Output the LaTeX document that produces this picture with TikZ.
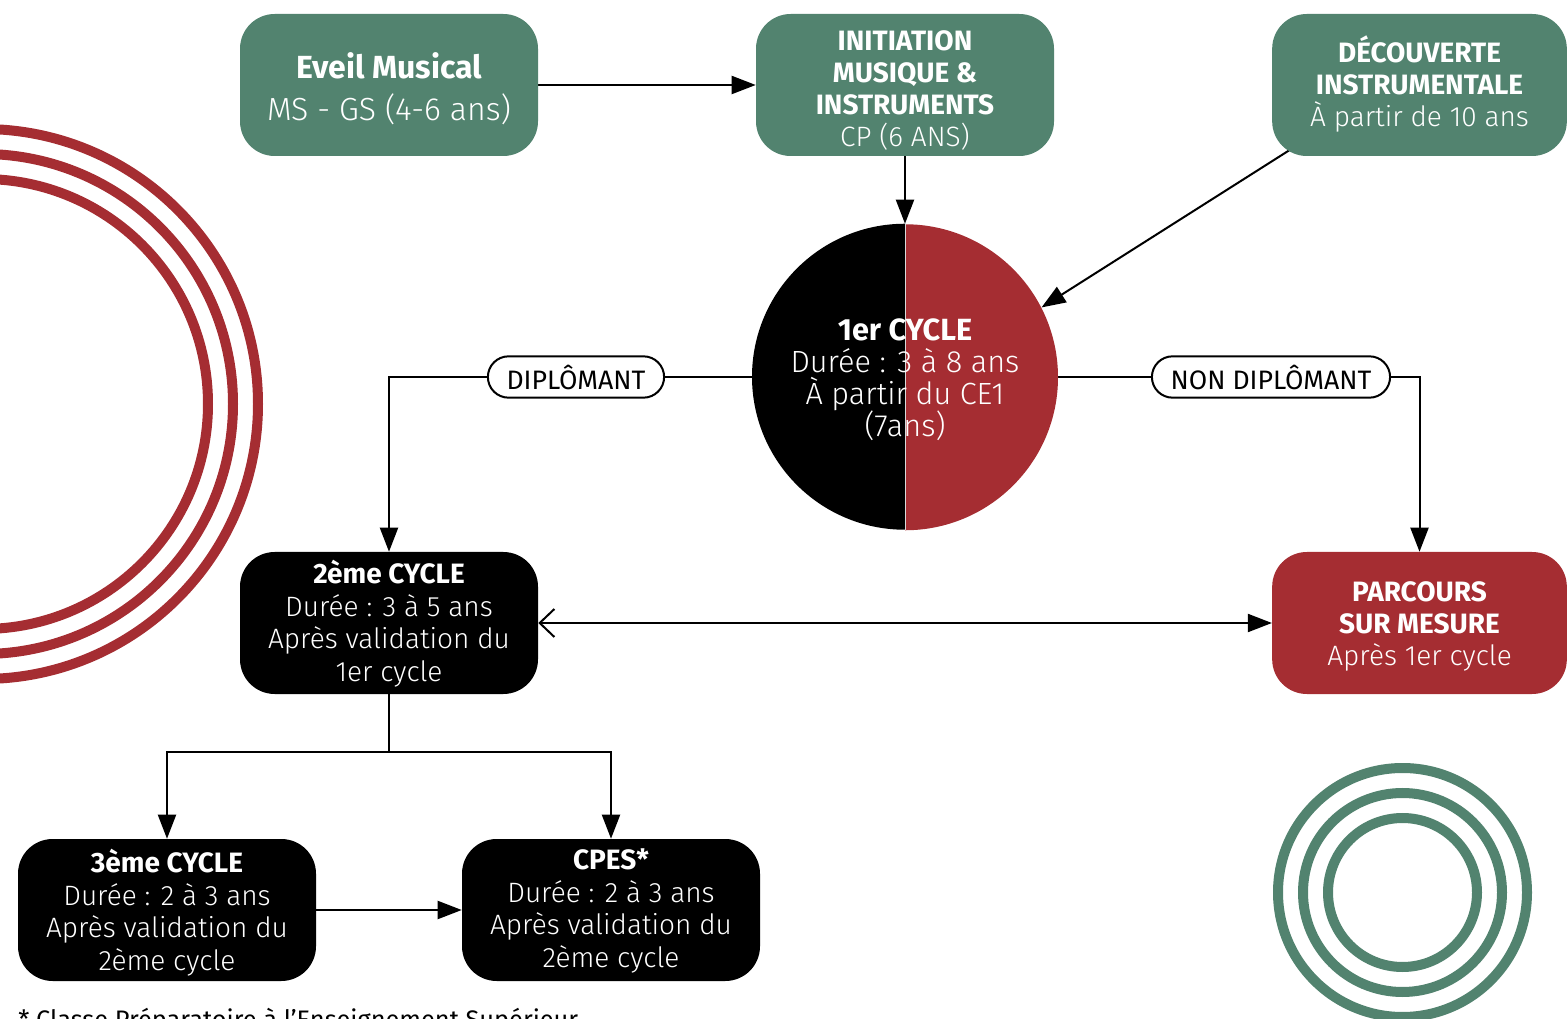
\documentclass[tikz,border=0pt]{standalone}
\usepackage{fontspec}
\setmainfont{Fira Sans}
\newfontfamily\lightfont{Fira Sans Light}
\usetikzlibrary{arrows.meta,backgrounds,calc}
\definecolor{cgreen}{RGB}{82,131,111}
\definecolor{cred}{RGB}{165,45,50}
\begin{document}
\begin{tikzpicture}[x=0.75pt,y=-0.75pt,
  box/.style={rectangle, rounded corners=26pt, minimum width=223.5pt, minimum height=106.5pt, inner sep=0pt},
  greenbox/.style={box, fill=cgreen},
  blackbox/.style={box, fill=black},
  redbox/.style={box, fill=cred},
  tx/.style={text=white, align=center, inner sep=0pt, font=\fontsize{21}{24}\selectfont},
  txb/.style={tx, font=\fontsize{21}{24.5}\selectfont},
  pill/.style={draw=black, line width=1.5pt, fill=white, rounded corners=15.5pt,
    minimum height=31pt, inner xsep=14pt, inner ysep=0pt, font=\fontsize{20}{22}\selectfont},
  conn/.style={line width=1.5pt, draw=black},
  arr/.style={conn, -{Triangle[length=18pt,width=13.5pt]}},
  ring/.style={line width=7.5pt}
]
\path[use as bounding box, clip] (0,0) rectangle (1568,1019);

% decorative rings
\draw[cred, ring] (-17,404) circle[radius=275];
\draw[cred, ring] (-17,404) circle[radius=250];
\draw[cred, ring] (-17,404) circle[radius=225];
\draw[cgreen, ring] (1402.5,892.5) circle[radius=124.5];
\draw[cgreen, ring] (1402.5,892.5) circle[radius=99.5];
\draw[cgreen, ring] (1402.5,892.5) circle[radius=74.5];

% top boxes
\node[greenbox] (eveil) at (389,85) {};
\node[tx, font=\fontsize{24}{31.5}\selectfont] (eveilt) at ([yshift=-2.6pt]eveil.center)
  {\textbf{Eveil Musical}\\{\lightfont MS - GS (4-6 ans)}};
\node[greenbox] (ini) at (905,85) {};
\node[tx] (init) at ([yshift=-3.75pt]ini.center)
  {\textbf{INITIATION}\\\textbf{MUSIQUE \&}\\\textbf{INSTRUMENTS}\\{\lightfont CP (6 ANS)}};
\node[greenbox, minimum width=221pt] (dec) at (1419.5,85) {};
\node[tx] (dect) at ([yshift=0.75pt]dec.center)
  {\textbf{DÉCOUVERTE}\\\textbf{INSTRUMENTALE}\\{\lightfont À partir de 10 ans}};

% first cycle circle
\node[circle, minimum size=229.5pt, inner sep=0pt] (c1) at (905,377) {};
\fill[black] (c1.north) arc[start angle=90, end angle=270, radius=114.75pt] -- cycle;
\fill[cred] (c1.south) arc[start angle=-90, end angle=90, radius=114.75pt] -- cycle;
\draw[white!70!gray, line width=0.5pt] (c1.north) -- (c1.south);
\node[tx, font=\fontsize{23}{24}\selectfont] (c1t) at ([yshift=-2.25pt]c1.center)
  {\textbf{1er CYCLE}\\{\lightfont Durée : 3 à 8 ans}\\{\lightfont À partir du CE1}\\{\lightfont (7ans)}};

% second row
\node[blackbox] (c2) at (389,623) {};
\node[txb] (c2t) at ([yshift=-0.4pt]c2.center)
  {\textbf{2ème CYCLE}\\{\lightfont Durée : 3 à 5 ans}\\{\lightfont Après validation du}\\{\lightfont 1er cycle}};
\node[redbox, minimum width=221pt] (pm) at (1419.5,623) {};
\node[tx] (pmt) at ([yshift=-2.25pt]pm.center)
  {\textbf{PARCOURS}\\\textbf{SUR MESURE}\\{\lightfont Après 1er cycle}};

% third row
\node[blackbox] (c3) at (167,910) {};
\node[txb] (c3t) at ([yshift=-2pt]c3.center)
  {\textbf{3ème CYCLE}\\{\lightfont Durée : 2 à 3 ans}\\{\lightfont Après validation du}\\{\lightfont 2ème cycle}};
\node[blackbox] (cpes) at (611,910) {};
\node[txb] (cpest) at ([yshift=-0.6pt]cpes.center)
  {\textbf{CPES*}\\{\lightfont Durée : 2 à 3 ans}\\{\lightfont Après validation du}\\{\lightfont 2ème cycle}};

\coordinate (split) at (389,752);
\coordinate (decin) at (1337,120);

\begin{scope}[on background layer]
\draw[arr] (eveil.east) -- (ini.west);
\draw[arr] (ini.south) -- (c1.north);
\draw[arr] (decin) -- (c1.27);
\draw[arr] (c1.west) -| (c2.north);
\draw[arr] (c1.east) -| (pm.north);
\draw[conn, {Straight Barb[length=11pt,width=21pt,line width=1.5pt]}-{Triangle[length=18pt,width=13.5pt]}] (c2.east) -- (pm.west);
\draw[conn] (c2.south) -- (split);
\draw[arr] (split) -| (c3.north);
\draw[arr] (split) -| (cpes.north);
\draw[arr] (c3.east) -- (cpes.west);
\end{scope}

% labels
\node[pill] (dip) at (576,377) {DIPLÔMANT};
\node[pill] (ndip) at (1271,377) {NON DIPLÔMANT};

% footnote
\node[anchor=base west, inner sep=0pt, font=\fontsize{19}{22}\selectfont] (fn) at (18,1028)
  {* Classe Préparatoire à l'Enseignement Supérieur};
\end{tikzpicture}
\end{document}
